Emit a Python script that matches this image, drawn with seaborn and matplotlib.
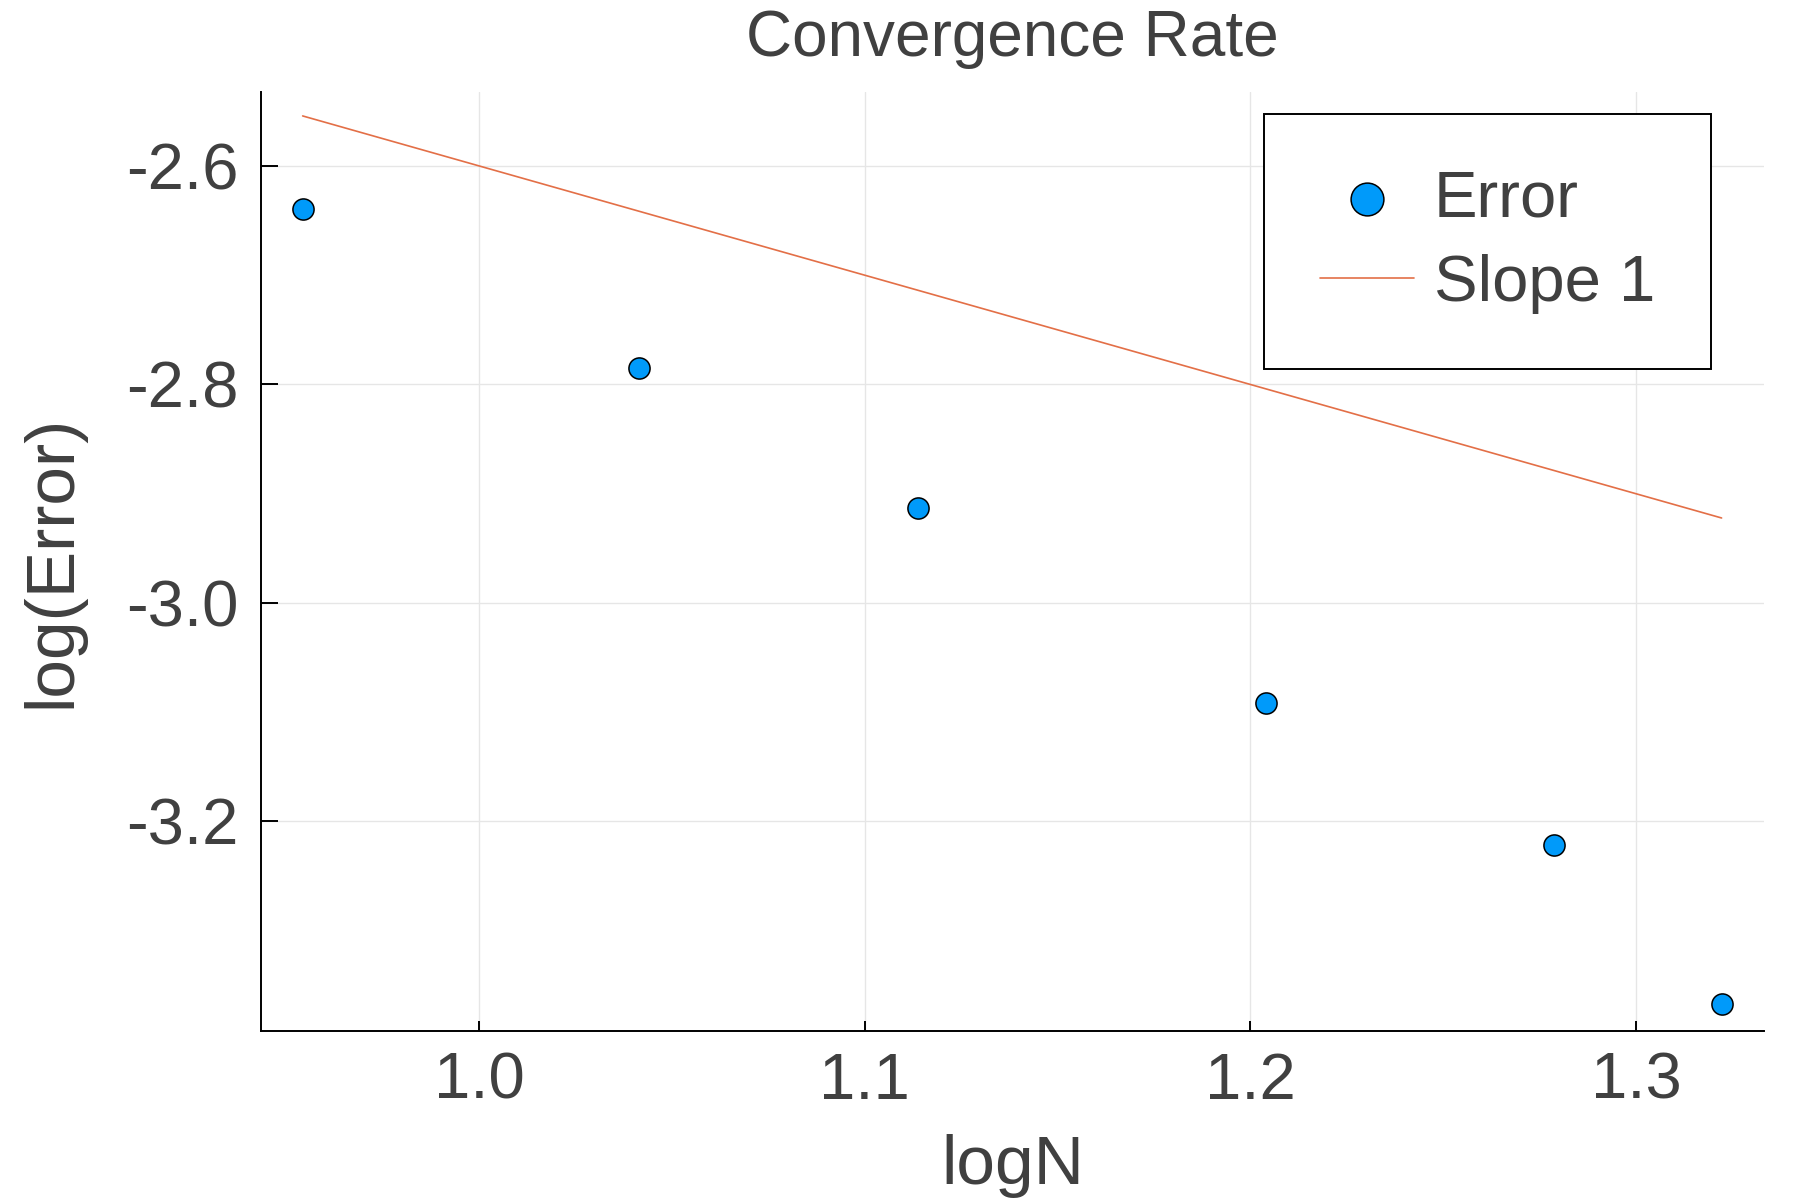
import matplotlib
matplotlib.use("Agg")
import matplotlib.pyplot as plt
import seaborn as sns
import pandas as pd

# ---- data ----
log_n = [0.9542, 1.0414, 1.1139, 1.2041, 1.2788, 1.3222]
log_error = [-2.639, -2.785, -2.913, -3.092, -3.2215, -3.367]
slope_one = [-2.5542, -2.6414, -2.7139, -2.8041, -2.8788, -2.9222]
x_ticks = [1.0, 1.1, 1.2, 1.3]
y_ticks = [-3.2, -3.0, -2.8, -2.6]
series_labels = ["Error", "Slope 1"]

TEXT = "#404040"
BLUE = "#009AFA"
ORANGE = "#E36F47"

sns.set_theme(style="white")
plt.rcParams["font.family"] = ["Liberation Sans", "DejaVu Sans"]
plt.rcParams["axes.unicode_minus"] = False

df_err = pd.DataFrame({"logN": log_n, "logE": log_error})
df_line = pd.DataFrame({"logN": log_n, "slope": slope_one})

fig = plt.figure(figsize=(9, 6), dpi=200)
ax = fig.add_axes([0.1448, 0.1408, 0.8352, 0.7828])

sns.scatterplot(data=df_err, x="logN", y="logE", ax=ax, color=BLUE,
                edgecolor="black", linewidth=0.55, s=58, label=series_labels[0],
                zorder=3)
sns.lineplot(data=df_line, x="logN", y="slope", ax=ax, color=ORANGE,
             linewidth=0.6, label=series_labels[1], sort=False,
             estimator=None, zorder=2)

ax.set_xlim(0.9433, 1.3332)
ax.set_ylim(-3.3918, -2.5320)
ax.set_xticks(x_ticks)
ax.set_xticklabels([f"{v:.1f}" for v in x_ticks])
ax.set_yticks(y_ticks)
ax.set_yticklabels([f"{v:.1f}" for v in y_ticks])

ax.grid(True, color="#e6e6e6", linewidth=0.5)
ax.set_axisbelow(True)
for side in ["top", "right"]:
    ax.spines[side].set_visible(False)
for side in ["left", "bottom"]:
    ax.spines[side].set_visible(True)
    ax.spines[side].set_color("black")
    ax.spines[side].set_linewidth(0.7)

ax.tick_params(axis="x", direction="in", length=3.6, width=0.7, color="black",
               labelsize=23.5, labelcolor=TEXT, pad=7.5, bottom=True)
ax.tick_params(axis="y", direction="in", length=6.1, width=0.7, color="black",
               labelsize=23.5, labelcolor=TEXT, pad=8, left=True)

ax.set_xlabel("logN", fontsize=25, color=TEXT, labelpad=8)
ax.set_ylabel("log(Error)", fontsize=25, color=TEXT, labelpad=15)
ax.set_title("Convergence Rate", fontsize=23, color=TEXT, pad=13)

leg = ax.legend(loc="upper right", bbox_to_anchor=(0.9645, 0.9763),
                fontsize=23.5, frameon=True, fancybox=False, framealpha=1,
                edgecolor="black", borderpad=0.85, labelspacing=0.37,
                handlelength=1.45, handletextpad=0.3, markerscale=1.55,
                borderaxespad=0)
leg.get_frame().set_linewidth(0.7)
for t in leg.get_texts():
    t.set_color(TEXT)

fig.savefig("out.png", dpi=200)
